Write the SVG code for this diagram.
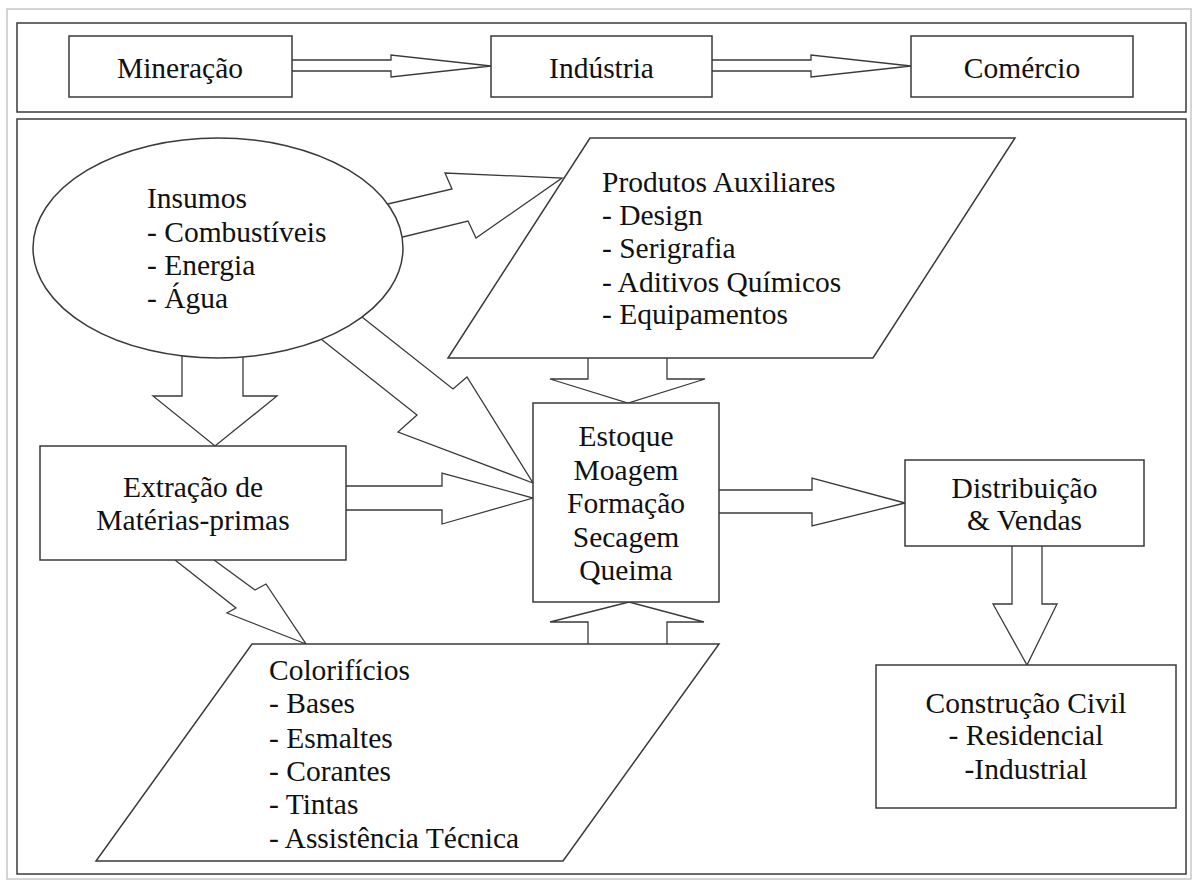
<svg xmlns="http://www.w3.org/2000/svg" width="1197" height="881" viewBox="0 0 1197 881">
<style>
.frame{fill:none;stroke:#c8c8c8;stroke-width:1.5}
.box{fill:#fff;stroke:#3a3a3a;stroke-width:1.5}
.arr{fill:#fff;stroke:#3a3a3a;stroke-width:1.3;stroke-linejoin:miter}
text{font-family:'Liberation Serif','DejaVu Serif',serif;font-size:29.5px;fill:#111}
.c{text-anchor:middle}
</style>
<rect width="1197" height="881" fill="#fff"/>
<rect class="frame" x="7" y="9" width="1184" height="870"/>
<g id="top-panel">
<rect class="box" x="17" y="23" width="1169" height="89"/>
</g>
<g id="main-panel">
<rect class="box" x="17" y="119" width="1169" height="755"/>
</g>
<g id="connectors">
<path class="arr" d="M292,60 L391,60 L391,55 L491,66 L391,77 L391,71 L292,71"/>
<path class="arr" d="M712,60 L811,60 L811,55 L911,66 L811,77 L811,71 L712,71"/>
<path class="arr" d="M182,340 L182,396 L153,396 L215,446 L277,396 L243,396 L243,340"/>
<path class="arr" d="M358,211 L452,189 L445,173 L562,178 L476,238 L468,221 L374,244"/>
<path class="arr" d="M343,302 L453,389 L467,377 L533,483 L398,432 L417,415 L302,324"/>
<path class="arr" d="M346,486 L442,486 L442,473 L533,498 L442,524 L442,510 L346,510"/>
<path class="arr" d="M175,560 L236,608 L227,613 L306,644 L266,584 L255,590 L214,560"/>
<path class="arr" d="M719,490 L812,490 L812,478 L905,503 L812,526 L812,513 L719,513"/>
<path class="arr" d="M588,644 L588,622 L550,622 L629,602 L704,622 L667,622 L667,644"/>
<path class="arr" d="M588,358 L588,379 L550,379 L628,403 L705,379 L667,379 L667,358"/>
<path class="arr" d="M1012,546 L1012,604 L993,604 L1027,665 L1057,604 L1042,604 L1042,546"/>
</g>
<g id="mineracao">
<rect class="box" x="69" y="36" width="223" height="61"/>
<text class="c" x="180" y="78">Mineração</text>
</g>
<g id="industria">
<rect class="box" x="491" y="36" width="221" height="61"/>
<text class="c" x="601.5" y="78">Indústria</text>
</g>
<g id="comercio">
<rect class="box" x="911" y="36" width="222" height="61"/>
<text class="c" x="1022" y="78">Comércio</text>
</g>
<g id="insumos">
<ellipse class="box" cx="218" cy="248" rx="185" ry="110"/>
<text x="147" y="208">Insumos</text>
<text x="147" y="242">- Combustíveis</text>
<text x="147" y="275">- Energia</text>
<text x="147" y="308">- Água</text>
</g>
<g id="produtos-auxiliares">
<polygon class="box" points="590,138 1015,138 873,358 448,358"/>
<text x="602" y="192">Produtos Auxiliares</text>
<text x="602" y="225">- Design</text>
<text x="602" y="258">- Serigrafia</text>
<text x="602" y="292">- Aditivos Químicos</text>
<text x="602" y="324">- Equipamentos</text>
</g>
<g id="extracao">
<rect class="box" x="40" y="446" width="306" height="114"/>
<text class="c" x="193" y="497">Extração de</text>
<text class="c" x="193" y="530">Matérias-primas</text>
</g>
<g id="estoque">
<rect class="box" x="533" y="403" width="186" height="199"/>
<text class="c" x="626" y="446">Estoque</text>
<text class="c" x="626" y="480">Moagem</text>
<text class="c" x="626" y="513">Formação</text>
<text class="c" x="626" y="547">Secagem</text>
<text class="c" x="626" y="580">Queima</text>
</g>
<g id="distribuicao">
<rect class="box" x="905" y="460" width="239" height="86"/>
<text class="c" x="1024.5" y="498">Distribuição</text>
<text class="c" x="1024.5" y="530">&amp; Vendas</text>
</g>
<g id="construcao">
<rect class="box" x="876" y="665" width="300" height="143"/>
<text class="c" x="1026" y="713">Construção Civil</text>
<text class="c" x="1026" y="745">- Residencial</text>
<text class="c" x="1026" y="779">-Industrial</text>
</g>
<g id="colorificios">
<polygon class="box" points="252,644 719,644 563,861 96,861"/>
<text x="269" y="680">Colorifícios</text>
<text x="269" y="713">- Bases</text>
<text x="269" y="748">- Esmaltes</text>
<text x="269" y="781">- Corantes</text>
<text x="269" y="814">- Tintas</text>
<text x="269" y="848">- Assistência Técnica</text>
</g>
</svg>
